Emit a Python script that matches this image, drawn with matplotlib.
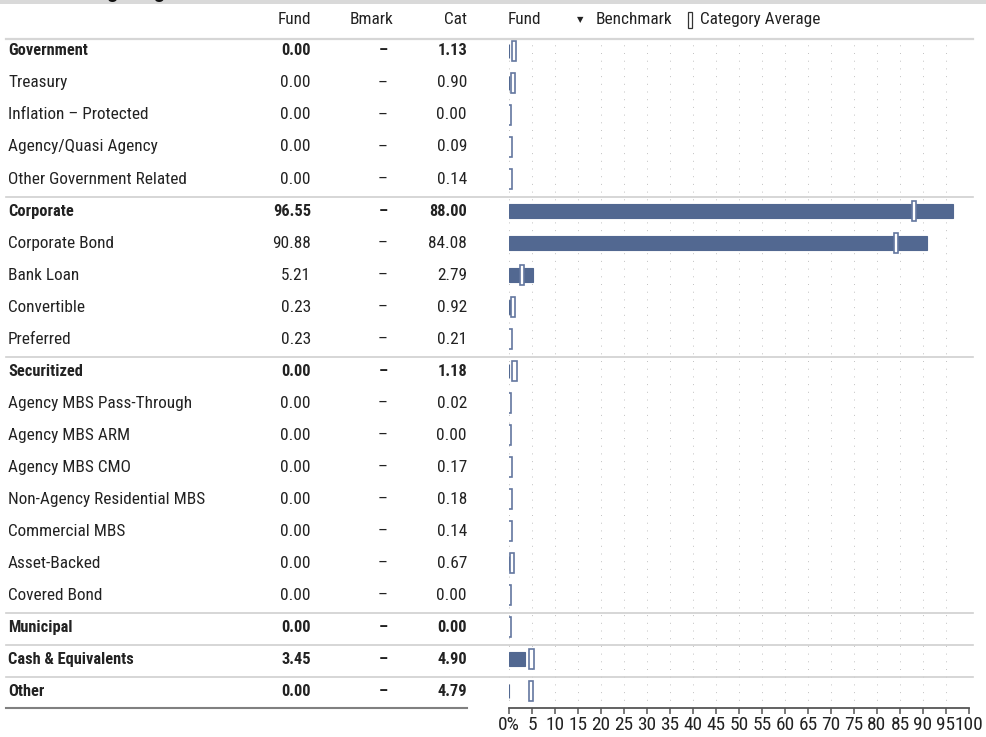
import matplotlib
matplotlib.use("Agg")
import matplotlib.pyplot as plt
from matplotlib import font_manager
from matplotlib.font_manager import FontProperties
from matplotlib.transforms import blended_transform_factory
from matplotlib.lines import Line2D
from matplotlib.patches import Rectangle

# ---------------- data ----------------
categories = ["Government", "Treasury", "Inflation – Protected", "Agency/Quasi Agency",
              "Other Government Related", "Corporate", "Corporate Bond", "Bank Loan",
              "Convertible", "Preferred", "Securitized", "Agency MBS Pass-Through",
              "Agency MBS ARM", "Agency MBS CMO", "Non-Agency Residential MBS",
              "Commercial MBS", "Asset-Backed", "Covered Bond", "Municipal",
              "Cash & Equivalents", "Other"]
is_bold = [True, False, False, False, False, True, False, False, False, False, True,
           False, False, False, False, False, False, False, True, True, True]
fund = [0.00, 0.00, 0.00, 0.00, 0.00, 96.55, 90.88, 5.21, 0.23, 0.23, 0.00,
        0.00, 0.00, 0.00, 0.00, 0.00, 0.00, 0.00, 0.00, 3.45, 0.00]
bmark = ["–"] * len(categories)
cat = [1.13, 0.90, 0.00, 0.09, 0.14, 88.00, 84.08, 2.79, 0.92, 0.21, 1.18,
       0.02, 0.00, 0.17, 0.18, 0.14, 0.67, 0.00, 0.00, 4.90, 4.79]
separators_after = [4, 9, 17, 18, 19]
xticks = list(range(0, 101, 5))
xtick_labels = ["0%"] + [str(v) for v in xticks[1:]]
title = "Sector Weightings"

# ---------------- fonts: pick a condensed face if installed ----------------
def pick_fonts():
    cands = []
    for f in font_manager.fontManager.ttflist:
        fn = f.fname.lower()
        nm = f.name.lower()
        if f.style != "normal":
            continue
        if any(k in fn for k in ("extracondensed", "semicondensed", "ultracondensed",
                                  "extra-condensed", "semi-condensed")):
            continue
        if ("condensed" in fn or "narrow" in fn or "condensed" in nm or "narrow" in nm
                or f.stretch in ("condensed", 75)):
            cands.append(f)
    prefs = ["liberation sans narrow", "roboto condensed", "dejavu", "noto sans", "open sans", ""]
    for p in prefs:
        grp = [f for f in cands if p in f.name.lower() and "mono" not in f.name.lower()
               and "serif" not in f.name.lower().replace("sans", "")]
        if not grp:
            continue
        def wnum(f):
            w = f.weight
            if isinstance(w, str):
                w = {"normal": 400, "regular": 400, "book": 400, "bold": 700}.get(w, 400)
            return w
        reg = [f for f in grp if wnum(f) in (400,)]
        bld = [f for f in grp if wnum(f) in (700,)]
        if reg and bld:
            return reg[0].fname, bld[0].fname
    return None, None

reg_file, bold_file = pick_fonts()

def make_fp(bold, size):
    if reg_file:
        return FontProperties(fname=bold_file if bold else reg_file, size=size)
    return FontProperties(family="Roboto", weight="bold" if bold else "normal", size=size)

W, H = 987, 737
fig = plt.figure(figsize=(W / 100, H / 100), dpi=100)
renderer = fig.canvas.get_renderer()

def size_for(text, bold, target_px):
    t = fig.text(0, 0, text, fontproperties=make_fp(bold, 10))
    w = t.get_window_extent(renderer).width
    t.remove()
    return 10 * target_px / w

fs = size_for("Other Government Related", False, 178)
fsb = size_for("Cash & Equivalents", True, 125)
fs_tick = fs * 1.12
fs_title = size_for("Sector Wei", True, 99)

fp_reg = make_fp(False, fs)
fp_bold = make_fp(True, fsb)
fp_tick = make_fp(False, fs_tick)
fp_title = make_fp(True, fs_title)

def fx(px):
    return px / W

def fy(py):
    return 1 - py / H

# chart axes
ax = fig.add_axes([fx(509), fy(708), fx(969) - fx(509), fy(38) - fy(708)])
ax.set_xlim(0, 100)
ax.set_ylim(20.53, -0.406)
for s in ["top", "right", "left"]:
    ax.spines[s].set_visible(False)
ax.spines["bottom"].set_color("#555555")
ax.spines["bottom"].set_linewidth(1.3)
ax.set_yticks([])
ax.set_xticks(xticks)
ax.set_xticklabels(xtick_labels)
ax.tick_params(axis="x", direction="out", length=4, width=1.1, color="#555555", pad=2,
               labelcolor="#222222")
for lab in ax.get_xticklabels():
    lab.set_fontproperties(fp_tick)

# dotted vertical grid
for v in xticks:
    ax.axvline(v, color="#c4c4c4", lw=0.72, linestyle=(0, (1, 6.7)), zorder=0)

bar_color = "#526891"
edge_color = "#63779f"
y = list(range(len(categories)))

ax.barh(y, fund, height=0.44, color=bar_color, edgecolor=bar_color, linewidth=0.8, zorder=2)

mw = 0.95   # marker width in %
mh = 0.62   # marker height in rows
ax.barh(y, [mw] * len(cat), left=[c - mw / 2 for c in cat], height=mh,
        facecolor="white", edgecolor=edge_color, linewidth=1.2, zorder=3)

# ---------------- table text ----------------
tr = blended_transform_factory(fig.transFigure, ax.transData)
txt_color = "#222222"
for i, name in enumerate(categories):
    fp = fp_bold if is_bold[i] else fp_reg
    kw = dict(transform=tr, va="center", fontproperties=fp, color=txt_color, clip_on=False)
    ax.text(fx(8), i, name, ha="left", **kw)
    ax.text(fx(311), i, f"{fund[i]:.2f}", ha="right", **kw)
    ax.text(fx(383), i, bmark[i], ha="center", **kw)
    ax.text(fx(467), i, f"{cat[i]:.2f}", ha="right", **kw)

# headers
hy = -0.97
hkw = dict(transform=tr, va="center", fontproperties=fp_reg, color=txt_color, clip_on=False)
ax.text(fx(311), hy, "Fund", ha="right", **hkw)
ax.text(fx(372), hy, "Bmark", ha="center", **hkw)
ax.text(fx(467), hy, "Cat", ha="right", **hkw)
ax.text(fx(508), hy, "Fund", ha="left", **hkw)
ax.text(fx(580), hy, "▼", transform=tr, ha="center", va="center", fontsize=6, color="#222222",
        family="DejaVu Sans", clip_on=False)
ax.text(fx(596), hy, "Benchmark", ha="left", **hkw)
ax.add_patch(Rectangle((fx(688), hy - 0.24), fx(4), 0.48, transform=tr, facecolor="white",
                       edgecolor="#333333", linewidth=0.9, clip_on=False))
ax.text(fx(700), hy, "Category Average", ha="left", **hkw)

# header line
fig.add_artist(Line2D([fx(6), fx(973)], [fy(38.5), fy(38.5)], color="#d6d6d6", lw=1.6))
# separators
for k in separators_after:
    ax.add_artist(Line2D([fx(6), fx(973)], [k + 0.56, k + 0.56], transform=tr,
                         color="#cfcfcf", lw=1.2, clip_on=False))
# bottom line of table
fig.add_artist(Line2D([fx(6), fx(467)], [fy(708), fy(708)], color="#808080", lw=1.5))

# title band (title text is cut off at the top edge, as in the reference)
fig.add_artist(Rectangle((0, fy(4)), 1, fy(0) - fy(4), transform=fig.transFigure,
                         facecolor="#d9d9d9", edgecolor="none"))
fig.text(fx(8), fy(-2.5), title, ha="left", va="baseline", fontproperties=fp_title,
         color="#111111")

fig.savefig("out.png", dpi=100)
